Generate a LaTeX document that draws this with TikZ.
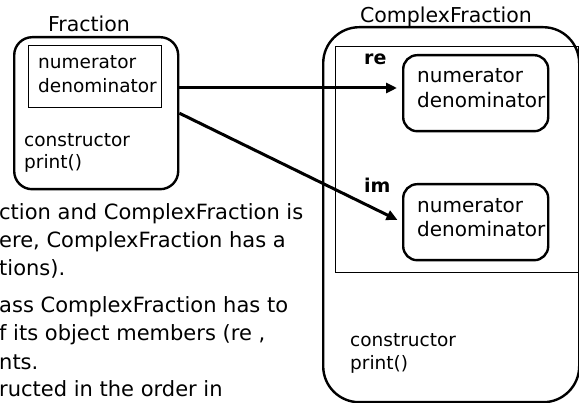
\documentclass[tikz,border=0pt]{standalone}
\usepackage{fontspec}
\setmainfont{DejaVu Sans}
\usetikzlibrary{arrows.meta}
\begin{document}
\begin{tikzpicture}[x=1pt,y=-1pt,
  classbox/.style={draw,line width=2.4pt,rounded corners=#1,inner sep=0pt,anchor=north west},
  membox/.style={draw,line width=1.4pt,inner sep=0pt,anchor=north west},
  lbl/.style={inner sep=0pt,anchor=base west,font=\fontsize{18.5}{22}\selectfont},
  biglbl/.style={inner sep=0pt,anchor=base west,font=\fontsize{20}{24}\selectfont},
  title/.style={inner sep=0pt,anchor=base,font=\fontsize{20.5}{24}\selectfont},
  field/.style={inner sep=0pt,anchor=base west,font=\fontsize{19}{23}\selectfont\bfseries},
  note/.style={inner sep=0pt,anchor=base west,font=\fontsize{21}{25}\selectfont},
  link/.style={-{Triangle[length=11pt,width=10pt]},line width=3pt,shorten >=5pt}]

\useasboundingbox (0,0) rectangle (579,403);
\clip (0,0) rectangle (579,403);
\fill[white] (0,0) rectangle (579,403);

% Fraction
\node[title] (ftitle) at (89,32) {Fraction};
\node[classbox=18pt,minimum width=164pt,minimum height=152pt] (frac) at (13,36) {};
\node[membox,minimum width=133pt,minimum height=62pt] (fdata) at (28,45) {};
\node[lbl] (fnum) at (38,69) {numerator};
\node[lbl] (fden) at (38,93) {denominator};
\node[lbl] (fctor) at (24,147) {constructor};
\node[lbl] (fprint) at (24,169) {print()};

% ComplexFraction
\node[title] (cftitle) at (446,23) {ComplexFraction};
\node[classbox=36pt,minimum width=256pt,minimum height=375pt] (cfrac) at (322,26) {};
\node[membox,minimum width=243pt,minimum height=226pt] (cfdata) at (335,46) {};
\node[classbox=14pt,minimum width=145pt,minimum height=76pt] (re) at (402,54) {};
\node[classbox=14pt,minimum width=145pt,minimum height=76pt] (im) at (402,183) {};
\node[field] (relbl) at (364,65) {re};
\node[field] (imlbl) at (364,193) {im};
\node[biglbl] (renum) at (417,83) {numerator};
\node[biglbl] (reden) at (417,108) {denominator};
\node[biglbl] (imnum) at (417,213) {numerator};
\node[biglbl] (imden) at (417,237) {denominator};
\node[lbl] (cfctor) at (350,347) {constructor};
\node[lbl] (cfprint) at (350,370) {print()};

% links
\coordinate (row) at (0,88);
\draw[link] (frac.east |- row) -- (re.west |- row);
\draw[link] (frac.east) -- (im.west);

% text behind
\foreach \n/\y/\t in {1/220/{ction and ComplexFraction is},
                      2/248/{ere, ComplexFraction has a},
                      3/276/{tions).},
                      4/313/{ass ComplexFraction has to},
                      5/341/{f its object members (re ,},
                      6/370/{nts.},
                      7/397/{ructed in the order in}}
  \node[note] (note\n) at (-1,\y) {\t};
\end{tikzpicture}
\end{document}
